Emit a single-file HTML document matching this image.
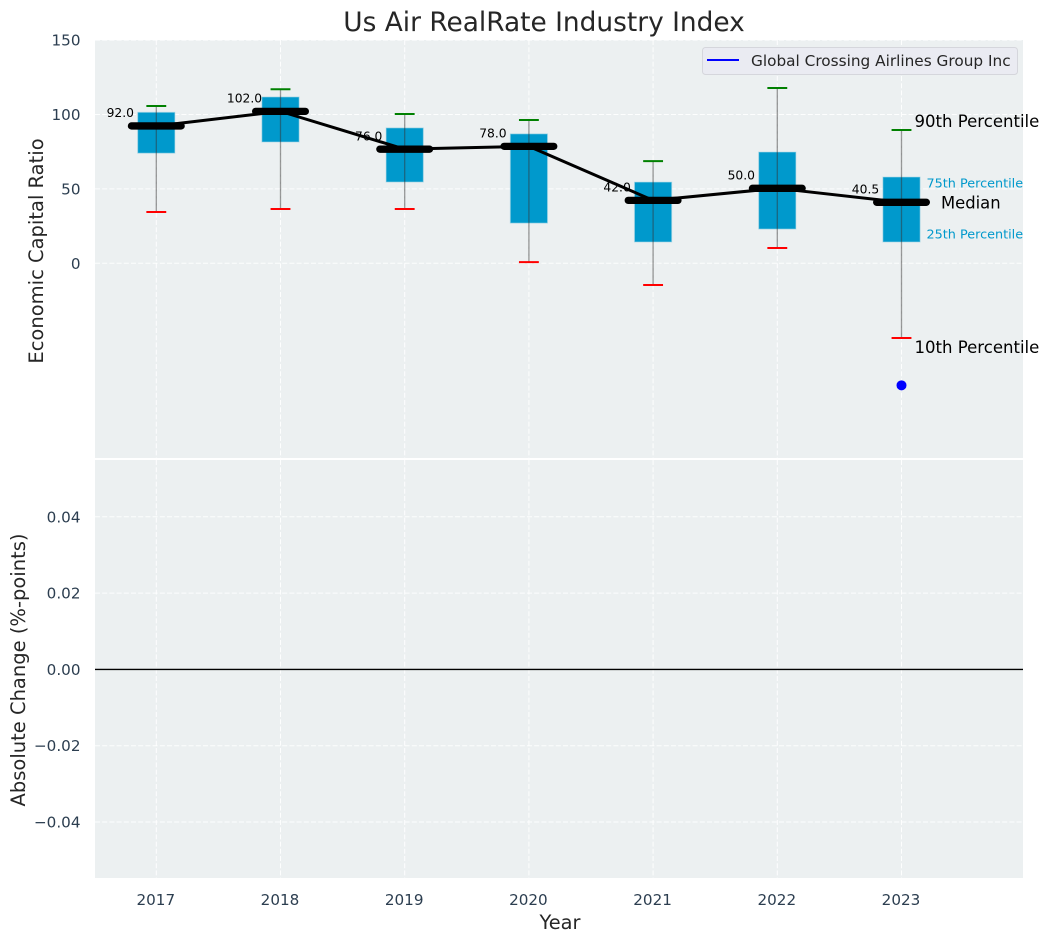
<!DOCTYPE html>
<html>
<head>
<meta charset="utf-8">
<title>Us Air RealRate Industry Index</title>
<style>
html,body{margin:0;padding:0;background:#fff;width:1049px;height:942px;overflow:hidden}
svg{display:block;font-family:"DejaVu Sans","Liberation Sans",sans-serif}
</style>
</head>
<body>
<svg id="chart" xmlns="http://www.w3.org/2000/svg" width="1049" height="942" viewBox="0 0 1049 942">
  <rect x="0" y="0" width="1049" height="942" fill="#ffffff"/>
  <rect x="95" y="40" width="928" height="418" fill="#ecf0f1"/>
  <rect x="95" y="460" width="928" height="418" fill="#ecf0f1"/>
  <g id="grid"></g>
  <g id="marks"></g>
  <g id="ticks"></g>
  <text x="544" y="31" text-anchor="middle" font-size="26.4px" fill="#262626">Us Air RealRate Industry Index</text>
  <text transform="translate(43,251) rotate(-90)" text-anchor="middle" font-size="19.5px" fill="#262626">Economic Capital Ratio</text>
  <text transform="translate(25,670) rotate(-90)" text-anchor="middle" font-size="19.5px" fill="#262626">Absolute Change (%-points)</text>
  <text x="560" y="929" text-anchor="middle" font-size="19.4px" fill="#262626">Year</text>
  <g>
    <rect x="702.5" y="47.5" width="315" height="27" rx="3" fill="#eaeaf2" fill-opacity="0.9" stroke="#d5d6dc" stroke-width="1"/>
    <line x1="707" y1="60" x2="739" y2="60" stroke="#0000ff" stroke-width="2"/>
    <text x="751" y="66" font-size="15.3px" fill="#262626">Global Crossing Airlines Group Inc</text>
  </g>
</svg>
<script>
var years = [2017, 2018, 2019, 2020, 2021, 2022, 2023];
var p90 = [105.7, 117, 100.3, 96.3, 68.7, 117.8, 89.6];
var q3 = [101.5, 111.8, 91, 87, 54.6, 74.8, 58];
var medians = [92.3, 102.1, 76.7, 78.6, 42.3, 50.4, 41];
var medianLabels = ['92.0', '102.0', '76.0', '78.0', '42.0', '50.0', '40.5'];
var q1 = [74, 81.5, 54.6, 27, 14.3, 23, 14.3];
var p10 = [34.5, 36.5, 36.5, 0.8, -14.6, 10.3, -50.2];
var companyYears = [2023];
var companyValues = [-82];
var topTicks = [0, 50, 100, 150];
var bottomTicks = [-0.04, -0.02, 0, 0.02, 0.04];
var zeroLineValue = [0];

function xScale(v) { return 156.3 + (v - 2017) * 124.2; }
function yTop(v) { return 263.3 - v * 1.488; }
function yBottom(v) { return 669.4 - v * 3815; }

var NS = 'http://www.w3.org/2000/svg';
function make(tag, parent, attrs, text) {
  var el = document.createElementNS(NS, tag);
  for (var k in attrs) { el.setAttribute(k, attrs[k]); }
  if (text !== undefined) { el.textContent = text; }
  parent.appendChild(el);
  return el;
}
var grid = document.getElementById('grid');
var marks = document.getElementById('marks');
var ticks = document.getElementById('ticks');
var dash = '5 2.2';
var el;

years.forEach(function (yr) {
  var x = xScale(yr);
  el = make('line', grid, {x1: x, x2: x, y1: 40, y2: 458, stroke: '#fff', 'stroke-width': 1, 'stroke-dasharray': dash, 'stroke-opacity': 0.9});
  
  
  el = make('line', grid, {x1: x, x2: x, y1: 460, y2: 878, stroke: '#fff', 'stroke-width': 1, 'stroke-dasharray': dash, 'stroke-opacity': 0.9});
  
  
  el = make('text', ticks, {x: x - 0.5, y: 905, 'text-anchor': 'middle', 'font-size': '15.2px', fill: '#2c3e50'}, String(yr));
  
  
});

topTicks.forEach(function (t) {
  var y = yTop(t);
  el = make('line', grid, {x1: 95, x2: 1023, y1: y, y2: y, stroke: '#fff', 'stroke-width': 1, 'stroke-dasharray': dash, 'stroke-opacity': 0.9});
  
  
  el = make('text', ticks, {x: 80.5, y: y + 5.5, 'text-anchor': 'end', 'font-size': '15.2px', fill: '#2c3e50'}, String(t));
  
  
});

bottomTicks.forEach(function (t) {
  var y = yBottom(t);
  el = make('line', grid, {x1: 95, x2: 1023, y1: y, y2: y, stroke: '#fff', 'stroke-width': 1, 'stroke-dasharray': dash, 'stroke-opacity': 0.9});
  
  
  el = make('text', ticks, {x: 80.5, y: y + 5.5, 'text-anchor': 'end', 'font-size': '15.2px', fill: '#2c3e50'}, (t < 0 ? '\u2212' : '') + Math.abs(t).toFixed(2));
  
  
});

zeroLineValue.forEach(function (v) {
  el = make('line', marks, {x1: 95, x2: 1023, y1: yBottom(v), y2: yBottom(v), stroke: '#000', 'stroke-width': 1.4});
  
  
});

years.forEach(function (yr, i) {
  var x = xScale(yr);
  el = make('rect', marks, {x: xScale(yr - 0.15), width: xScale(yr + 0.15) - xScale(yr - 0.15), y: yTop(q3[i]), height: yTop(q1[i]) - yTop(q3[i]), fill: '#0099cc', stroke: '#add8e6', 'stroke-opacity': 0.6, 'stroke-width': 1});
  
  
  el = make('line', marks, {x1: x, x2: x, y1: yTop(p90[i]), y2: yTop(p10[i]), stroke: '#333', 'stroke-opacity': 0.5, 'stroke-width': 1.3});
  
  
  el = make('line', marks, {x1: xScale(yr - 0.08), x2: xScale(yr + 0.08), y1: yTop(p90[i]), y2: yTop(p90[i]), stroke: '#008000', 'stroke-width': 2});
  
  
  el = make('line', marks, {x1: xScale(yr - 0.08), x2: xScale(yr + 0.08), y1: yTop(p10[i]), y2: yTop(p10[i]), stroke: '#ff0000', 'stroke-width': 2});
  
  
  el = make('text', marks, {x: x - 36, y: yTop(medians[i]) - 8.8, 'text-anchor': 'middle', 'font-size': '12.3px', fill: '#000'}, medianLabels[i]);
  
  
});

var pts = years.map(function (yr, i) { return xScale(yr) + ',' + yTop(medians[i]); }).join(' ');
el = make('polyline', marks, {points: pts, fill: 'none', stroke: '#000', 'stroke-width': 3, 'stroke-linejoin': 'round'});



years.forEach(function (yr, i) {
  el = make('line', marks, {x1: xScale(yr - 0.2), x2: xScale(yr + 0.2), y1: yTop(medians[i]), y2: yTop(medians[i]), stroke: '#000', 'stroke-width': 7.3, 'stroke-linecap': 'round'});
  
  
});

companyYears.forEach(function (yr, i) {
  el = make('circle', marks, {cx: xScale(yr), cy: yTop(companyValues[i]), r: 5, fill: '#0000ff'});
  
  
});

var last = years.length - 1;
var lx = xScale(years[last]);
el = make('text', marks, {x: lx + 13, y: yTop(p90[last]) - 3, 'font-size': '16.55px', fill: '#000'}, '90th Percentile');


el = make('text', marks, {x: lx + 13, y: yTop(p10[last]) + 15, 'font-size': '16.55px', fill: '#000'}, '10th Percentile');


el = make('text', marks, {x: lx + 39.5, y: yTop(medians[last]) + 6, 'font-size': '16.4px', fill: '#000'}, 'Median');


el = make('text', marks, {x: lx + 25, y: yTop(q3[last]) + 10.5, 'font-size': '12.8px', fill: '#0099cc'}, '75th Percentile');


el = make('text', marks, {x: lx + 25, y: yTop(q1[last]) - 3.5, 'font-size': '12.8px', fill: '#0099cc'}, '25th Percentile');


</script>
</body>
</html>
